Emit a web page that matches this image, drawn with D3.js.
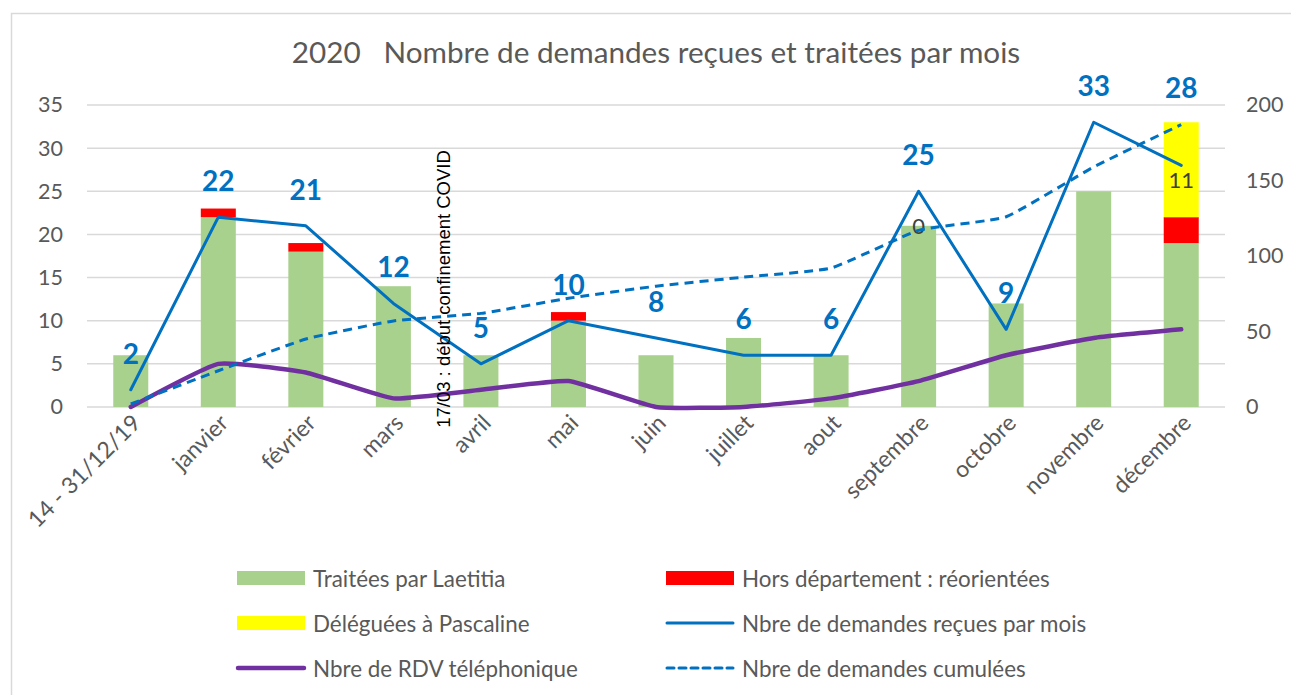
<!DOCTYPE html>
<html>
<head>
<meta charset="utf-8">
<script src="https://cdn.jsdelivr.net/npm/d3@7"></script>
<style>
  html, body { margin: 0; padding: 0; background: #fff; }
  svg { display: block; font-family: Lato, "Open Sans", sans-serif; }
</style>
</head>
<body>
<div id="chartdiv"></div>
<script>
// categories and series
var categories = ["14 - 31/12/19", "janvier", "février", "mars", "avril", "mai", "juin",
  "juillet", "aout", "septembre", "octobre", "novembre", "décembre"];
var traitees = [6, 22, 18, 14, 6, 10, 6, 8, 6, 21, 12, 25, 19];
var horsDept = [0, 1, 1, 0, 0, 1, 0, 0, 0, 0, 0, 0, 3];
var deleguees = [0, 0, 0, 0, 0, 0, 0, 0, 0, 0, 0, 0, 11];
var recues = [2, 22, 21, 12, 5, 10, 8, 6, 6, 25, 9, 33, 28];
var cumulees = [2, 24, 45, 57, 62, 72, 80, 86, 92, 117, 126, 159, 187];
var rdvTel = [0, 5, 4, 1, 2, 3, 0, 0, 1, 3, 6, 8, 9];
var leftTicks = [0, 5, 10, 15, 20, 25, 30, 35];
var rightTicks = [0, 50, 100, 150, 200];
var horsDeptLabelled = ["septembre"];
var delegueesLabelled = ["décembre"];

var W = 1291, H = 695;
var plot = { left: 87, right: 1225, top: 105, bottom: 407 };

var svg = d3.select("#chartdiv").append("svg")
    .attr("width", W)
    .attr("height", H);

// chart frame
svg.append("rect")
    .attr("x", 11.5).attr("y", 13.5)
    .attr("width", 1400).attr("height", 800)
    .attr("fill", "none")
    .attr("stroke", "#d9d9d9")
    .attr("stroke-width", 1.5);

var x = d3.scaleBand()
    .domain(categories)
    .range([plot.left, plot.right])
    .paddingInner(0.6)
    .paddingOuter(0.3);
var cx = function(c) { return x(c) + x.bandwidth() / 2; };

var yLeft = d3.scaleLinear().domain([0, 35]).range([plot.bottom, plot.top]);
var yRight = d3.scaleLinear().domain([0, 200]).range([plot.bottom, plot.top]);

// gridlines
svg.append("g")
    .selectAll("line")
    .data(leftTicks)
    .enter()
    .append("line")
    .attr("x1", plot.left).attr("x2", plot.right)
    .attr("y1", function(d) { return yLeft(d); })
    .attr("y2", function(d) { return yLeft(d); })
    .attr("stroke", "#d9d9d9")
    .attr("stroke-width", 1.5);

// left axis
var leftAxis = svg.append("g")
    .attr("transform", "translate(" + (plot.left - 24) + ",0)")
    .call(d3.axisLeft(yLeft).tickValues(leftTicks).tickSize(0).tickPadding(0));
leftAxis.select(".domain").remove();
leftAxis.selectAll("text")
    .attr("fill", "#595959")
    .style("font-size", "21.5px")
    .style("font-family", "Lato, sans-serif");

// right axis
var rightAxis = svg.append("g")
    .attr("transform", "translate(" + (plot.right + 21) + ",0)")
    .call(d3.axisRight(yRight).tickValues(rightTicks).tickSize(0).tickPadding(0));
rightAxis.select(".domain").remove();
rightAxis.selectAll("text")
    .attr("fill", "#595959")
    .style("font-size", "21.5px")
    .style("font-family", "Lato, sans-serif");

// stacked bars
var rows = categories.map(function(c, i) {
    return { cat: c, traitees: traitees[i], horsDept: horsDept[i], deleguees: deleguees[i] };
});
var keys = ["traitees", "horsDept", "deleguees"];
var colours = { traitees: "#a9d18e", horsDept: "#ff0000", deleguees: "#ffff00" };
var stacked = d3.stack().keys(keys)(rows);

svg.append("g")
    .selectAll("g")
    .data(stacked)
    .enter()
    .append("g")
    .attr("fill", function(s) { return colours[s.key]; })
    .selectAll("rect")
    .data(function(s) { return s; })
    .enter()
    .append("rect")
    .attr("x", function(d) { return x(d.data.cat); })
    .attr("width", x.bandwidth())
    .attr("y", function(d) { return yLeft(d[1]); })
    .attr("height", function(d) { return yLeft(d[0]) - yLeft(d[1]); });

// segment labels
var segLabels = [];
stacked[1].forEach(function(d) {
    if (horsDeptLabelled.indexOf(d.data.cat) >= 0)
        segLabels.push({ cat: d.data.cat, v: d.data.horsDept, y: yLeft((d[0] + d[1]) / 2) });
});
stacked[2].forEach(function(d) {
    if (delegueesLabelled.indexOf(d.data.cat) >= 0)
        segLabels.push({ cat: d.data.cat, v: d.data.deleguees, y: yLeft((d[0] + d[1]) / 2) + 10 });
});
svg.append("g")
    .selectAll("text")
    .data(segLabels)
    .enter()
    .append("text")
    .attr("x", function(d) { return cx(d.cat); })
    .attr("y", function(d) { return d.y; })
    .attr("text-anchor", "middle")
    .attr("dominant-baseline", "central")
    .attr("fill", "#404040")
    .style("font-size", "22px")
    .text(function(d) { return d.v; });

// lines
var lineLeft = d3.line()
    .x(function(d, i) { return cx(categories[i]); })
    .y(function(d) { return yLeft(d); });
var smoothLeft = d3.line()
    .x(function(d, i) { return cx(categories[i]); })
    .y(function(d) { return yLeft(d); })
    .curve(d3.curveCardinal.tension(0.6));
var smoothRight = d3.line()
    .x(function(d, i) { return cx(categories[i]); })
    .y(function(d) { return yRight(d); })
    .curve(d3.curveCardinal.tension(0.6));

svg.append("path")
    .attr("d", smoothLeft(rdvTel))
    .attr("fill", "none")
    .attr("stroke", "#7030a0")
    .attr("stroke-width", 4.5)
    .attr("stroke-linejoin", "round")
    .attr("stroke-linecap", "round");

svg.append("path")
    .attr("d", lineLeft(recues))
    .attr("fill", "none")
    .attr("stroke", "#0070c0")
    .attr("stroke-width", 3)
    .attr("stroke-linejoin", "round")
    .attr("stroke-linecap", "round");

svg.append("path")
    .attr("d", smoothRight(cumulees))
    .attr("fill", "none")
    .attr("stroke", "#0070c0")
    .attr("stroke-width", 3)
    .attr("stroke-dasharray", "9,6");

// labels of the monthly requests
svg.append("g")
    .selectAll("text")
    .data(recues)
    .enter()
    .append("text")
    .attr("x", function(d, i) { return cx(categories[i]); })
    .attr("y", function(d, i) {
        var top = traitees[i] + horsDept[i] + deleguees[i];
        // label pushed above the bar when the point sits well inside it
        if (top - d > 4) return yLeft(top) - 24;
        return yLeft(d) - 26;
    })
    .attr("text-anchor", "middle")
    .attr("fill", "#0070c0")
    .style("font-size", "28px")
    .style("font-weight", "bold")
    .text(function(d) { return d; });

// COVID annotation between mars and avril
var covidX = (cx("mars") + cx("avril")) / 2 + 6;
svg.append("text")
    .attr("transform", "translate(" + covidX + "," + 289 + ") rotate(-90)")
    .attr("text-anchor", "middle")
    .attr("dominant-baseline", "central")
    .attr("fill", "#000")
    .style("font-family", "'Liberation Sans', Arial, sans-serif")
    .style("font-size", "18.5px")
    .text("17/03 : début confinement COVID");

// category labels
svg.append("g")
    .selectAll("text")
    .data(categories)
    .enter()
    .append("text")
    .attr("transform", function(d) {
        return "translate(" + (cx(d) + 5) + "," + 418 + ") rotate(-45)";
    })
    .attr("text-anchor", "end")
    .attr("dominant-baseline", "central")
    .attr("fill", "#595959")
    .style("font-size", "23px")
    .text(function(d) { return d; });

// title
svg.append("text")
    .attr("x", 656)
    .attr("y", 63)
    .attr("text-anchor", "middle")
    .attr("fill", "#595959")
    .style("font-size", "29.7px")
    .style("white-space", "pre")
    .text("2020   Nombre de demandes reçues et traitées par mois");

// legend
var legendItems = [
    { name: "Traitées par Laetitia", type: "rect", colour: "#a9d18e" },
    { name: "Hors département : réorientées", type: "rect", colour: "#ff0000" },
    { name: "Déléguées à Pascaline", type: "rect", colour: "#ffff00" },
    { name: "Nbre de demandes reçues par mois", type: "line", colour: "#0070c0", width: 3 },
    { name: "Nbre de RDV téléphonique", type: "line", colour: "#7030a0", width: 4.5 },
    { name: "Nbre de demandes cumulées", type: "dash", colour: "#0070c0", width: 3 }
];
var legendCols = [237, 666], legendRows = [578, 623, 668];

var leg = svg.append("g")
    .selectAll("g")
    .data(legendItems)
    .enter()
    .append("g")
    .attr("transform", function(d, i) {
        return "translate(" + legendCols[i % 2] + "," + legendRows[Math.floor(i / 2)] + ")";
    });

leg.filter(function(d) { return d.type === "rect"; })
    .append("rect")
    .attr("x", 0).attr("y", -7)
    .attr("width", 68).attr("height", 14)
    .attr("fill", function(d) { return d.colour; });

leg.filter(function(d) { return d.type !== "rect"; })
    .append("line")
    .attr("x1", 1).attr("x2", 67)
    .attr("y1", 0).attr("y2", 0)
    .attr("stroke", function(d) { return d.colour; })
    .attr("stroke-width", function(d) { return d.width; })
    .attr("stroke-linecap", "round")
    .attr("stroke-dasharray", function(d) { return d.type === "dash" ? "7,5" : null; });

leg.append("text")
    .attr("x", 76)
    .attr("y", 0)
    .attr("dominant-baseline", "central")
    .attr("fill", "#595959")
    .style("font-size", "22.4px")
    .text(function(d) { return d.name; });
</script>
</body>
</html>
